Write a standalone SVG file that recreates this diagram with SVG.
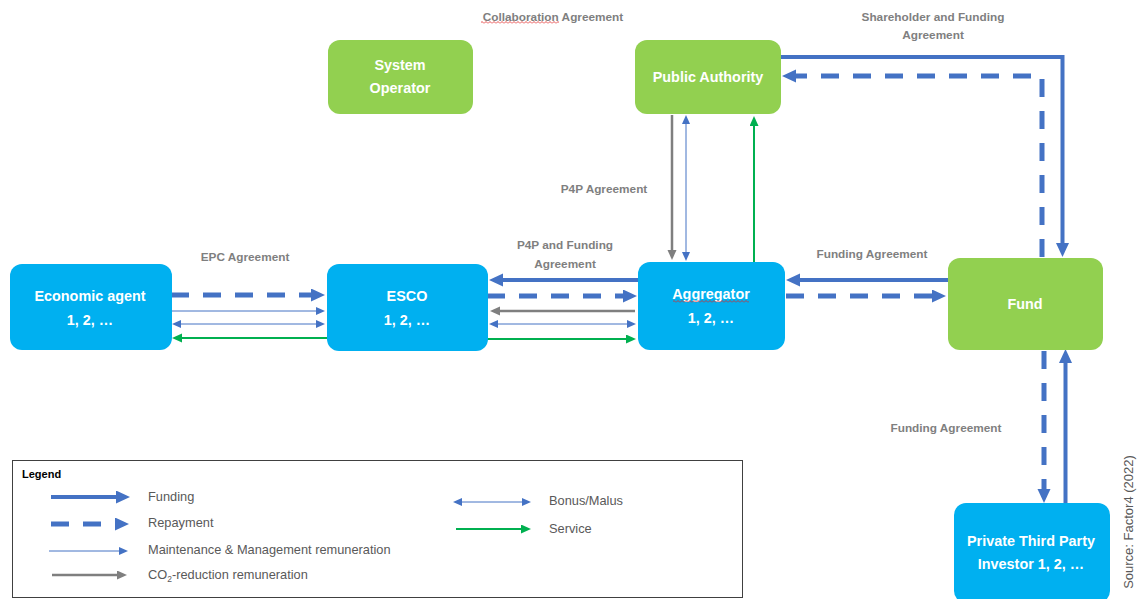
<svg xmlns="http://www.w3.org/2000/svg" width="1137" height="599" viewBox="0 0 1137 599">
<style>
.nb{fill:#00B0F0}
.ng{fill:#92D050}
.nt{font-family:"Liberation Sans",Arial,sans-serif;font-weight:bold;font-size:14.4px;fill:#fff;text-anchor:middle}
.lb{font-family:"Liberation Sans",Arial,sans-serif;font-weight:bold;font-size:11.8px;fill:#7F7F7F;text-anchor:middle}
.lt{font-family:"Liberation Sans",Arial,sans-serif;font-size:12.8px;fill:#595959}
.fund{fill:none;stroke:#4472C4;stroke-width:4}
.rep{fill:none;stroke:#4472C4;stroke-width:5;stroke-dasharray:18 14}
.thin{fill:none;stroke:#4472C4;stroke-width:1}
.gray{fill:none;stroke:#7F7F7F;stroke-width:2.5}
.grn{fill:none;stroke:#00B050;stroke-width:2}
</style>
<defs>
<marker id="mT" markerUnits="userSpaceOnUse" markerWidth="15" markerHeight="14" refX="1" refY="6.5" orient="auto"><path d="M0,0 L14,6.5 L0,13z" fill="#4472C4"/></marker>
<marker id="mS" markerUnits="userSpaceOnUse" markerWidth="10" markerHeight="9" refX="1" refY="4" orient="auto-start-reverse"><path d="M0,0 L9,4 L0,8z" fill="#4472C4"/></marker>
<marker id="mG" markerUnits="userSpaceOnUse" markerWidth="11" markerHeight="10" refX="1" refY="4.5" orient="auto"><path d="M0,0 L10,4.5 L0,9z" fill="#7F7F7F"/></marker>
<marker id="mN" markerUnits="userSpaceOnUse" markerWidth="11" markerHeight="10" refX="1" refY="4.5" orient="auto"><path d="M0,0 L10,4.5 L0,9z" fill="#00B050"/></marker>
<pattern id="sq" width="4" height="3" patternUnits="userSpaceOnUse"><path d="M0,2.5 L2,0.5 L4,2.5" fill="none" stroke="#E02020" stroke-width="0.8"/></pattern>
</defs>
<rect width="1137" height="599" fill="#fff"/>

<g id="connectors">
<line class="rep" x1="171" y1="295" x2="312" y2="295" marker-end="url(#mT)"/>
<line class="thin" x1="171" y1="311" x2="317" y2="311" marker-end="url(#mS)"/>
<line class="thin" x1="180" y1="324" x2="317" y2="324" marker-start="url(#mS)" marker-end="url(#mS)"/>
<line class="grn" x1="327" y1="338" x2="181" y2="338" marker-end="url(#mN)"/>
<line class="fund" x1="638" y1="280" x2="502" y2="280" marker-end="url(#mT)"/>
<line class="rep" x1="487" y1="296" x2="624" y2="296" marker-end="url(#mT)"/>
<line class="gray" x1="635" y1="311" x2="499" y2="311" marker-end="url(#mG)"/>
<line class="thin" x1="497" y1="324" x2="628" y2="324" marker-start="url(#mS)" marker-end="url(#mS)"/>
<line class="grn" x1="487" y1="339" x2="627" y2="339" marker-end="url(#mN)"/>
<line class="fund" x1="948" y1="280" x2="799" y2="280" marker-end="url(#mT)"/>
<line class="rep" x1="786" y1="296" x2="933" y2="296" marker-end="url(#mT)"/>
<line class="gray" x1="672" y1="115" x2="672" y2="251" marker-end="url(#mG)"/>
<line class="thin" x1="686" y1="123" x2="686" y2="253" marker-start="url(#mS)" marker-end="url(#mS)"/>
<line class="grn" x1="754" y1="262" x2="754" y2="125" marker-end="url(#mN)"/>
<path class="fund" d="M780,57 H1062.5 V244" marker-end="url(#mT)"/>
<path class="rep" d="M1042,257 V76 H795" marker-end="url(#mT)"/>
<line class="rep" x1="1044" y1="351" x2="1044" y2="490" marker-end="url(#mT)"/>
<line class="fund" x1="1065.5" y1="503" x2="1065.5" y2="362" marker-end="url(#mT)"/>
</g>

<g id="labels">
<text class="lb" x="553" y="21">Collaboration Agreement</text>
<rect x="481" y="21" width="78" height="3" fill="url(#sq)"/>
<text class="lb" x="933" y="21">Shareholder and Funding</text>
<text class="lb" x="933" y="39">Agreement</text>
<text class="lb" x="604" y="193">P4P Agreement</text>
<text class="lb" x="245" y="261">EPC Agreement</text>
<text class="lb" x="565" y="249">P4P and Funding</text>
<text class="lb" x="565" y="268">Agreement</text>
<text class="lb" x="872" y="258">Funding Agreement</text>
<text class="lb" x="946" y="432">Funding Agreement</text>
<text class="lt" transform="translate(1133,522) rotate(-90)" text-anchor="middle" style="font-size:13px">Source: Factor4 (2022)</text>
</g>

<g id="system-operator">
<rect class="ng" x="328" y="40" width="145" height="74" rx="12"/>
<text class="nt" x="400" y="70">System</text>
<text class="nt" x="400" y="93">Operator</text>
</g>
<g id="public-authority">
<rect class="ng" x="635" y="40" width="146" height="74" rx="12"/>
<text class="nt" x="708" y="82">Public Authority</text>
</g>
<g id="economic-agent">
<rect class="nb" x="10" y="264" width="162" height="86" rx="12"/>
<text class="nt" x="90" y="301">Economic agent</text>
<text class="nt" x="90" y="325">1, 2, …</text>
</g>
<g id="esco">
<rect class="nb" x="327" y="264" width="161" height="87" rx="12"/>
<text class="nt" x="407" y="301">ESCO</text>
<text class="nt" x="407" y="325">1, 2, …</text>
</g>
<g id="aggregator">
<rect class="nb" x="638" y="262" width="147" height="88" rx="12"/>
<text class="nt" x="711" y="299">Aggregator</text>
<rect x="673" y="300" width="76" height="3" fill="url(#sq)"/>
<text class="nt" x="711" y="323">1, 2, …</text>
</g>
<g id="fund">
<rect class="ng" x="948" y="258" width="155" height="92" rx="12"/>
<text class="nt" x="1025" y="309">Fund</text>
</g>
<g id="investor">
<rect class="nb" x="954" y="503" width="156" height="100" rx="12"/>
<text class="nt" x="1031" y="546">Private Third Party</text>
<text class="nt" x="1031" y="569">Investor 1, 2, …</text>
</g>

<g id="legend">
<rect x="12.5" y="460.5" width="730" height="137" fill="none" stroke="#404040" stroke-width="1"/>
<text x="22" y="478" style="font-family:'Liberation Sans',Arial,sans-serif;font-weight:bold;font-size:11px;fill:#000">Legend</text>
<line class="fund" x1="51" y1="497" x2="117" y2="497" marker-end="url(#mT)"/>
<text class="lt" x="148" y="501">Funding</text>
<line class="rep" x1="51" y1="524" x2="116" y2="524" marker-end="url(#mT)"/>
<text class="lt" x="148" y="527">Repayment</text>
<line class="thin" x1="49" y1="551" x2="120" y2="551" marker-end="url(#mS)"/>
<text class="lt" x="148" y="554">Maintenance &amp; Management remuneration</text>
<line class="gray" x1="52" y1="575" x2="118" y2="575" marker-end="url(#mG)"/>
<text class="lt" x="148" y="579">CO<tspan style="font-size:8.5px" dy="3">2</tspan><tspan dy="-3">-reduction remuneration</tspan></text>
<line class="thin" x1="461" y1="502" x2="523" y2="502" marker-start="url(#mS)" marker-end="url(#mS)"/>
<text class="lt" x="549" y="505">Bonus/Malus</text>
<line class="grn" x1="456" y1="529" x2="522" y2="529" marker-end="url(#mN)"/>
<text class="lt" x="549" y="533">Service</text>
</g>
</svg>
